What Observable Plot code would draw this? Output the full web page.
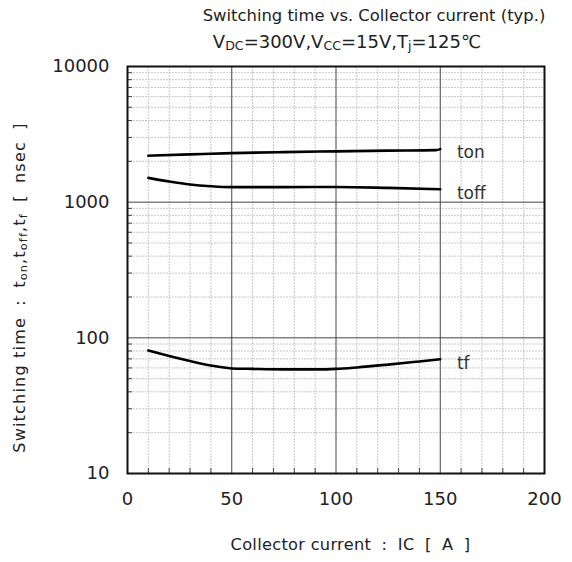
<!DOCTYPE html>
<html><head><meta charset="utf-8">
<script src="https://cdn.jsdelivr.net/npm/d3@7"></script>
<script src="https://cdn.jsdelivr.net/npm/@observablehq/plot@0.6"></script>
<style>
body{margin:0;background:#fff;}
#wrap{position:relative;width:572px;height:562px;font-family:"DejaVu Sans",sans-serif;color:#222;overflow:hidden;background:#fff;}
#title,#subtitle{position:absolute;text-align:center;line-height:22px;white-space:nowrap;z-index:2;transform:translateX(-50%);}
#title{top:5px;left:374px;font-size:16.4px;}
#subtitle{top:31px;left:347px;font-size:18px;}
sub{font-size:0.7em;vertical-align:-0.12em;}
.w{margin:0 5px;}
#chart{position:absolute;left:0;top:36px;z-index:1;}
#ylabel{position:absolute;left:22px;top:285px;transform:translate(-50%,-50%) rotate(-90deg);white-space:nowrap;font-size:16px;line-height:20px;letter-spacing:1.2px;}
#xlabel{position:absolute;left:353px;top:535px;transform:translateX(-50%);white-space:nowrap;font-size:16.2px;line-height:20px;letter-spacing:0.3px;}
</style></head><body>
<div id="wrap">
<div id="title">Switching time vs. Collector current (typ.)</div>
<div id="subtitle">V<sub>DC</sub>=300V,V<sub>CC</sub>=15V,T<sub>j</sub>=125℃</div>
<div id="chart"></div>
<div id="ylabel">Switching time <span class="w">:</span> t<sub>on</sub>,t<sub>off</sub>,t<sub>f</sub> <span class="w">[</span> nsec <span class="w">]</span></div>
<div id="xlabel">Collector current <span class="w">:</span> IC <span class="w">[</span> A <span class="w">]</span></div>
</div>
<script>
// Data
const ton  = [[10,2200],[30,2250],[50,2300],[75,2340],[100,2370],[125,2400],[148,2420],[150,2460]];
const toff = [[10,1510],[20,1420],[30,1350],[40,1310],[50,1290],[75,1290],[100,1295],[125,1275],[150,1245]];
const tf   = [[10,80.5],[20,73.5],[30,67.5],[40,62.5],[50,59.5],[60,59],[75,58.5],[90,58.5],[100,59],[110,60.5],[125,63.5],[140,67],[150,69.5]];
const seriesLabels = [{x:158,y:2330,t:"ton"},{x:158,y:1150,t:"toff"},{x:158,y:65,t:"tf"}];
const xTicks = [0,50,100,150,200];
const xMinor = [10,20,30,40,60,70,80,90,110,120,130,140,160,170,180,190];
const yTicks = [10,100,1000,10000];
const yMinor = [20,30,40,50,60,70,80,90,200,300,400,500,600,700,800,900,2000,3000,4000,5000,6000,7000,8000,9000];

const toRows = (arr, s) => arr.map(([x,y]) => ({x, y, s}));
const lines = [...toRows(ton,"ton"), ...toRows(toff,"toff"), ...toRows(tf,"tf")];

const W = 572, H = 526, mL = 127, mR = 28, mT = 30, mB = 89;
const innerH = H - mT - mB, innerW = W - mL - mR;

const chart = Plot.plot({
  width: W, height: H,
  marginLeft: mL, marginRight: mR, marginTop: mT, marginBottom: mB,
  style: {fontFamily: '"DejaVu Sans",sans-serif', fontSize: "18px", color: "#222", background: "none", overflow: "visible"},
  x: {domain: [0,200]},
  y: {type: "log", domain: [10,10000]},
  marks: [
    Plot.ruleX(xMinor, {x: d => d, stroke: "#c8c8c8", strokeWidth: 1, strokeDasharray: "2,1"}),
    Plot.ruleY(yMinor, {y: d => d, stroke: "#c8c8c8", strokeWidth: 1, strokeDasharray: "2,1"}),
    Plot.ruleX([50,100,150], {x: d => d, stroke: "#444", strokeWidth: 1}),
    Plot.ruleY([100,1000], {y: d => d, stroke: "#444", strokeWidth: 1}),
    Plot.tickX(xMinor, {x: d => d, stroke: "#444", insetTop: innerH - 5}),
    Plot.tickY(yMinor, {y: d => d, stroke: "#444", insetRight: innerW - 5}),
    Plot.axisX(xTicks, {tickSize: 0, tickPadding: 19, label: null, fontSize: 18}),
    Plot.axisY(yTicks, {tickSize: 0, tickPadding: 18, label: null, fontSize: 18, tickFormat: d => String(d)}),
    Plot.frame({stroke: "#111", strokeWidth: 2}),
    Plot.line(lines, {x: "x", y: "y", z: "s", curve: "monotone-x", stroke: "#000", strokeWidth: 2.6}),
    Plot.text(seriesLabels, {x: "x", y: "y", text: "t", textAnchor: "start", fontSize: 17, fill: "#333"})
  ]
});
document.getElementById("chart").appendChild(chart);
</script>
</body></html>
